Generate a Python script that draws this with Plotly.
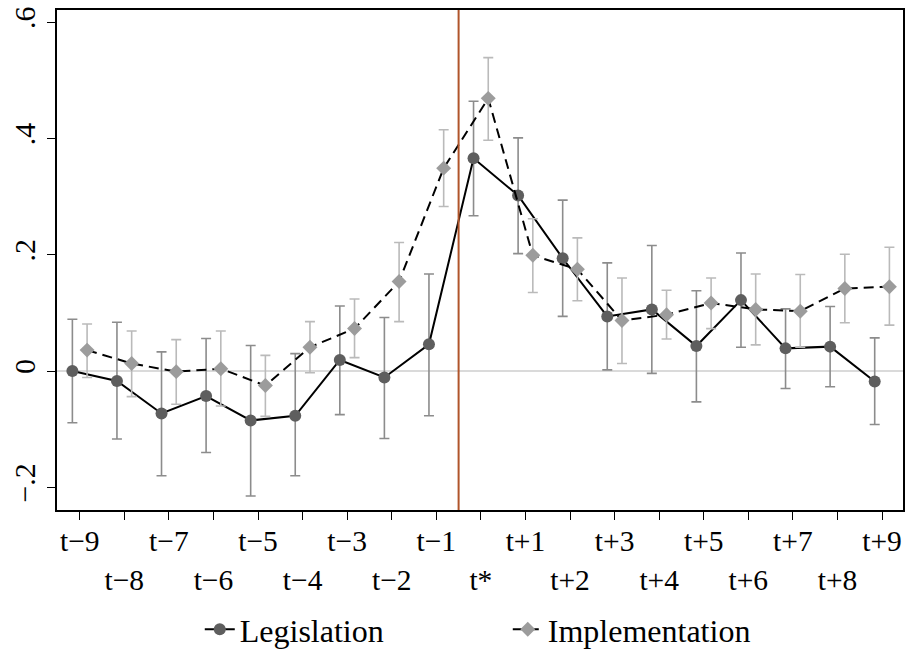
import plotly.graph_objects as go

periods = ["t−9", "t−8", "t−7", "t−6", "t−5", "t−4", "t−3", "t−2", "t−1", "t*",
           "t+1", "t+2", "t+3", "t+4", "t+5", "t+6", "t+7", "t+8", "t+9"]

leg = [0.000, -0.017, -0.073, -0.043, -0.085, -0.077, 0.019, -0.011, 0.046, 0.366,
       0.302, 0.194, 0.094, 0.106, 0.043, 0.122, 0.039, 0.042, -0.018]
leg_hi = [0.089, 0.084, 0.033, 0.056, 0.044, 0.030, 0.112, 0.092, 0.167, 0.464,
          0.401, 0.294, 0.186, 0.216, 0.138, 0.203, 0.107, 0.111, 0.057]
leg_lo = [-0.089, -0.117, -0.180, -0.140, -0.215, -0.180, -0.075, -0.116, -0.077, 0.267,
          0.202, 0.094, 0.002, -0.004, -0.053, 0.041, -0.030, -0.027, -0.092]

impl = [0.036, 0.013, -0.001, 0.004, -0.025, 0.041, 0.073, 0.154, 0.349, 0.469,
        0.199, 0.175, 0.087, 0.097, 0.117, 0.106, 0.103, 0.142, 0.145]
impl_hi = [0.081, 0.069, 0.054, 0.069, 0.027, 0.085, 0.124, 0.221, 0.415, 0.539,
           0.262, 0.229, 0.160, 0.139, 0.160, 0.167, 0.166, 0.201, 0.213]
impl_lo = [-0.011, -0.044, -0.057, -0.060, -0.078, -0.003, 0.023, 0.085, 0.283, 0.397,
           0.135, 0.121, 0.013, 0.055, 0.073, 0.045, 0.041, 0.083, 0.079]

y_tickvals = [-0.2, 0, 0.2, 0.4, 0.6]
y_ticktext = ["−.2", "0", ".2", ".4", ".6"]

FONT = "Liberation Serif, Times New Roman, serif"
OFF = 0.165
idx = list(range(len(periods)))
x_leg = [i - OFF for i in idx]
x_impl = [i + OFF for i in idx]

# tick labels alternate between two rows
x_ticktext = [p if i % 2 == 0 else "<br>" + p for i, p in enumerate(periods)]

fig = go.Figure()

fig.add_trace(go.Scatter(
    x=x_leg, y=leg, mode="lines+markers", name="Legislation",
    line=dict(color="black", width=2),
    marker=dict(symbol="circle", size=12, color="#5e5e5e"),
    error_y=dict(type="data", symmetric=False,
                 array=[h - v for h, v in zip(leg_hi, leg)],
                 arrayminus=[v - l for v, l in zip(leg, leg_lo)],
                 color="#8c8c8c", thickness=1.6, width=5),
))

fig.add_trace(go.Scatter(
    x=x_impl, y=impl, mode="lines+markers", name="Implementation",
    line=dict(color="black", width=2, dash="10px,6px"),
    marker=dict(symbol="diamond", size=11.5, color="#9c9c9c"),
    error_y=dict(type="data", symmetric=False,
                 array=[h - v for h, v in zip(impl_hi, impl)],
                 arrayminus=[v - l for v, l in zip(impl, impl_lo)],
                 color="#bababa", thickness=1.6, width=5),
))

# zero reference line
fig.add_hline(y=0, line=dict(color="#dadada", width=2), layer="below")
# event line between t-1 and t*
fig.add_vline(x=periods.index("t*") - 0.5, line=dict(color="#b0552a", width=2))

fig.update_layout(
    width=906, height=651,
    margin=dict(l=57, r=3, t=10, b=141, autoexpand=False),
    paper_bgcolor="white", plot_bgcolor="white",
    font=dict(family=FONT, size=30, color="black"),
    showlegend=True,
    legend=dict(orientation="h", xref="container", x=0.2205, xanchor="left",
                yref="container", y=0.033, yanchor="middle",
                font=dict(family=FONT, size=32, color="black"),
                entrywidth=263, entrywidthmode="pixels",
                bgcolor="rgba(0,0,0,0)"),
)

fig.update_xaxes(
    range=[-0.51, 18.47], tickmode="array", tickvals=idx, ticktext=x_ticktext,
    showgrid=False, zeroline=False, showline=True, linecolor="black", linewidth=1.5,
    mirror=True, ticks="outside", ticklen=8, tickwidth=1.2, tickcolor="black",
    tickfont=dict(family=FONT, size=29.5, color="black"), automargin=False,
    ticklabelstandoff=-4,
)
fig.update_yaxes(
    range=[-0.239, 0.621], tickmode="array", tickvals=y_tickvals, ticktext=y_ticktext,
    showgrid=False, zeroline=False, showline=True, linecolor="black", linewidth=1.5,
    mirror=True, ticks="outside", ticklen=8, tickwidth=1.2, tickcolor="black",
    tickangle=-90, tickfont=dict(family=FONT, size=30, color="black"), automargin=False,
)

fig.write_html("out.html")
